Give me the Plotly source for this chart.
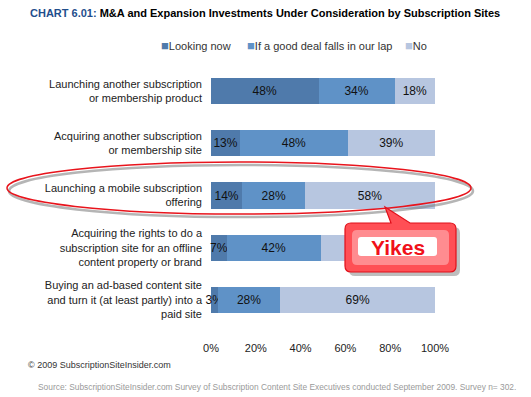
import plotly.graph_objects as go

categories = [
    "Launching another subscription<br>or membership product",
    "Acquiring another subscription<br>or membership site",
    "Launching a mobile subscription<br>offering",
    "Acquiring the rights to do a<br>subscription site for an offline<br>content property or brand",
    "Buying an ad-based content site<br>and turn it (at least partly) into a<br>paid site",
]
series_names = ["Looking now", "If a good deal falls in our lap", "No"]
looking_now = [48, 13, 14, 7, 3]
good_deal = [34, 48, 28, 42, 28]
no_vals = [18, 39, 58, 51, 69]
colors = ["#4f7aab", "#5f92c7", "#b7c6e0"]
tick_vals = [0, 20, 40, 60, 80, 100]
tick_text = ["0%", "20%", "40%", "60%", "80%", "100%"]

W, H = 531, 397
ML, MR, T, B = 10, 10, 65, 326
PL, PR = 211, 435

def px(x):
    return (x - ML) / (W - MR - ML)

def py(y):
    return (B - y) / (B - T)

fig = go.Figure()
for name, vals, c in zip(series_names, [looking_now, good_deal, no_vals], colors):
    fig.add_trace(go.Bar(
        y=categories, x=vals, name=name, orientation="h",
        marker=dict(color=c, line=dict(width=0)),
        text=[f"{v}%" for v in vals], textposition="inside",
        insidetextanchor="middle", textangle=0,
        textfont=dict(family="Arial, Liberation Sans", size=12, color="#111"),
        width=0.5, cliponaxis=False, hoverinfo="skip", showlegend=False,
    ))

shapes = []
shapes.append(dict(type="circle", xref="paper", yref="paper",
                   x0=px(9), x1=px(473), y0=py(217), y1=py(165),
                   line=dict(color="rgba(120,120,120,0.55)", width=2.5), layer="above"))
shapes.append(dict(type="circle", xref="paper", yref="paper",
                   x0=px(7), x1=px(471), y0=py(214), y1=py(162),
                   line=dict(color="#e8141c", width=1.5), layer="above"))

def rrect(x0, y0, x1, y1, r, pointer=None):
    d = f"M {px(x0+r)},{py(y0)} "
    if pointer:
        bx0, bx1, tx, ty = pointer
        d += f"L {px(bx0)},{py(y0)} L {px(tx)},{py(ty)} L {px(bx1)},{py(y0)} "
    d += f"L {px(x1-r)},{py(y0)} Q {px(x1)},{py(y0)} {px(x1)},{py(y0+r)} "
    d += f"L {px(x1)},{py(y1-r)} Q {px(x1)},{py(y1)} {px(x1-r)},{py(y1)} "
    d += f"L {px(x0+r)},{py(y1)} Q {px(x0)},{py(y1)} {px(x0)},{py(y1-r)} "
    d += f"L {px(x0)},{py(y0+r)} Q {px(x0)},{py(y0)} {px(x0+r)},{py(y0)} Z"
    return d

shapes.append(dict(type="path", xref="paper", yref="paper",
                   path=rrect(349, 227, 460, 276, 6),
                   fillcolor="rgba(110,110,110,0.45)", line=dict(width=0), layer="above"))
shapes.append(dict(type="path", xref="paper", yref="paper",
                   path=rrect(345, 223, 456, 272, 6, pointer=(391, 410, 385, 207)),
                   fillcolor="#ff4f55", line=dict(color="#e0101a", width=1.2), layer="above"))
shapes.append(dict(type="path", xref="paper", yref="paper",
                   path=rrect(352, 230, 449, 265, 5),
                   fillcolor="#ff8c90", line=dict(width=0), layer="above"))
shapes.append(dict(type="path", xref="paper", yref="paper",
                   path=rrect(358, 237, 437, 256, 3),
                   fillcolor="#ffffff", line=dict(width=0), layer="above"))

annotations = [
    dict(x=px(398), y=py(247), xref="paper", yref="paper", xanchor="center", yanchor="middle",
         text="<b>Yikes</b>", showarrow=False,
         font=dict(family="Arial, Liberation Sans", size=21, color="#f0101a")),
    dict(x=px(28), y=py(13), xref="paper", yref="paper", xanchor="left", yanchor="middle",
         text="<b><span style='color:#1f4e8c'>CHART 6.01:</span> M&A and Expansion Investments Under Consideration by Subscription Sites</b>",
         showarrow=False, font=dict(family="Liberation Sans, Arial", size=11, color="#000")),
    dict(x=px(26), y=py(365), xref="paper", yref="paper", xanchor="left", yanchor="middle",
         text="© 2009 SubscriptionSiteInsider.com", showarrow=False,
         font=dict(family="Arial, Liberation Sans", size=9, color="#333")),
    dict(x=px(36), y=py(387), xref="paper", yref="paper", xanchor="left", yanchor="middle",
         text="Source: SubscriptionSiteInsider.com Survey of Subscription Content Site Executives conducted September 2009. Survey n= 302.",
         showarrow=False, font=dict(family="Liberation Sans, Arial", size=8.4, color="#9a9a9a")),
]
legend_x = [159, 245, 403]
for name, c, lx in zip(series_names, colors, legend_x):
    annotations.append(dict(
        x=px(lx), y=py(45), xref="paper", yref="paper", xanchor="left", yanchor="middle",
        text=f"<span style='color:{c};font-size:13px'>■</span>{name}", showarrow=False,
        font=dict(family="Arial, Liberation Sans", size=11, color="#333")))

fig.update_layout(
    width=W, height=H, barmode="stack",
    margin=dict(l=ML, r=MR, t=T, b=H - B, autoexpand=False),
    paper_bgcolor="white", plot_bgcolor="white",
    showlegend=False,
    uniformtext=dict(minsize=12, mode="show"),
    xaxis=dict(domain=[px(PL), px(PR)], range=[0, 100], tickvals=tick_vals, ticktext=tick_text,
               showgrid=False, zeroline=False, showline=False, ticks="", ticklabelstandoff=14,
               tickfont=dict(family="Arial, Liberation Sans", size=11, color="#222")),
    yaxis=dict(categoryorder="array", categoryarray=categories, autorange="reversed",
               showgrid=False, zeroline=False, showline=False, ticks="", ticklabelstandoff=8,
               tickfont=dict(family="Arial, Liberation Sans", size=11, color="#222")),
    shapes=shapes, annotations=annotations,
)
fig.write_html("out.html", config={"displayModeBar": False},
               post_script="document.body.style.margin='0';document.body.style.padding='0';")
